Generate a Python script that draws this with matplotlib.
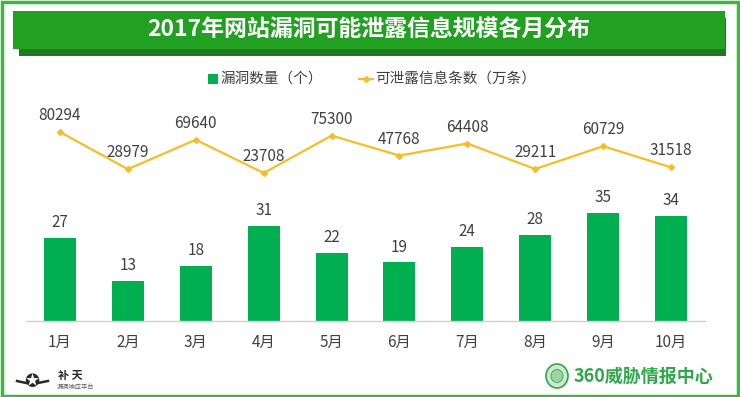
import matplotlib
matplotlib.use("Agg")
import matplotlib.pyplot as plt
from matplotlib.patches import Rectangle, Ellipse
from matplotlib.lines import Line2D

plt.rcParams['font.family'] = ['Noto Sans CJK SC', 'DejaVu Sans']

months = ["1月", "2月", "3月", "4月", "5月", "6月", "7月", "8月", "9月", "10月"]
vuln_counts = [27, 13, 18, 31, 22, 19, 24, 28, 35, 34]
leak_records = [80294, 28979, 69640, 23708, 75300, 47768, 64408, 29211, 60729, 31518]

title = "2017年网站漏洞可能泄露信息规模各月分布"
bar_label = "漏洞数量（个）"
line_label = "可泄露信息条数（万条）"

BAR_C = "#00B050"
LINE_C = "#F7BD27"
TXT_C = "#404040"

W, H = 740, 397
fig = plt.figure(figsize=(W / 100, H / 100), dpi=100)
fig.patch.set_facecolor("white")

def fx(px):
    return px / W

def fy(py):
    return 1 - py / H

# outer border
fig.add_artist(Rectangle((fx(1.5), fy(395.5)), fx(736), (394) / H, transform=fig.transFigure,
                         fill=False, edgecolor="#3CB83C", linewidth=2.5))

# title bar with shadow
fig.add_artist(Rectangle((fx(19), fy(56)), fx(707), 38 / H, transform=fig.transFigure,
                         facecolor="#1E7A1E", edgecolor="none"))
fig.add_artist(Rectangle((fx(13), fy(49)), fx(712), 38 / H, transform=fig.transFigure,
                         facecolor="#22A022", edgecolor="none"))
fig.text(fx(369), fy(30), title, color="white", fontsize=16.5, fontweight="bold",
         ha="center", va="center")

# main axes
left_px, right_px = 26, 705
top_px, base_px = 100, 321
ax = fig.add_axes([fx(left_px), fy(base_px), fx(right_px - left_px), (base_px - top_px) / H])
x = list(range(len(months)))
ax.bar(x, vuln_counts, width=0.47, color=BAR_C, zorder=2)
ax.set_xlim(-0.5, len(months) - 0.5)
ax.set_ylim(0, 71.75)
for xi, v in zip(x, vuln_counts):
    ax.text(xi, v + 2.2, str(v), ha="center", va="bottom", fontsize=11, color=TXT_C)
ax.set_xticks(x)
ax.set_xticklabels(months, fontsize=11, color=TXT_C)
ax.tick_params(axis="x", length=0, pad=9)
ax.set_yticks([])
for s in ["top", "right", "left"]:
    ax.spines[s].set_visible(False)
ax.spines["bottom"].set_color("#D0D0D0")
ax.spines["bottom"].set_linewidth(1)
ax.patch.set_alpha(0)

ax2 = ax.twinx()
ax2.plot(x, leak_records, color=LINE_C, linewidth=1.6, marker="D", markersize=3,
         markerfacecolor=LINE_C, markeredgecolor=LINE_C, zorder=3)
ax2.set_ylim(-180540, 124460)
for xi, v in zip(x, leak_records):
    ax2.text(xi, v + 11000, str(v), ha="center", va="bottom", fontsize=11, color=TXT_C)
ax2.set_yticks([])
for s in ax2.spines.values():
    s.set_visible(False)

# legend
fig.add_artist(Rectangle((fx(208), fy(84)), fx(10), 10 / H, transform=fig.transFigure,
                         facecolor=BAR_C, edgecolor="none"))
fig.text(fx(220), fy(79), bar_label, fontsize=10.5, color=TXT_C, ha="left", va="center")
fig.add_artist(Line2D([fx(359), fx(373)], [fy(79), fy(79)], transform=fig.transFigure,
                      color=LINE_C, linewidth=1.6))
fig.add_artist(Line2D([fx(366)], [fy(79)], transform=fig.transFigure,
                      color=LINE_C, marker="D", markersize=3, linestyle="none"))
fig.text(fx(375), fy(79), line_label, fontsize=10.5, color=TXT_C, ha="left", va="center")

# bottom-left logo (text)
fig.text(fx(32), fy(382), "✪", fontsize=13, color="#2A2A2A", ha="center", va="center",
         family=["DejaVu Sans"])
fig.add_artist(Line2D([fx(17), fx(26)], [fy(381), fy(383)], transform=fig.transFigure,
                      color="#2A2A2A", linewidth=1.8))
fig.add_artist(Line2D([fx(38), fx(48)], [fy(383), fy(381)], transform=fig.transFigure,
                      color="#2A2A2A", linewidth=1.8))
fig.text(fx(58), fy(376), "补 天", fontsize=8, fontweight="bold", color="#2A2A2A",
         ha="left", va="center")
fig.text(fx(57), fy(388), "漏洞响应平台", fontsize=4.5, color="#555555", ha="left", va="center")

# bottom-right logo
fig.add_artist(Ellipse((fx(557), fy(376)), 22 / W, 24 / H, transform=fig.transFigure,
                       facecolor="#CFE8CF", edgecolor="#2EA84A", linewidth=1.2))
fig.add_artist(Ellipse((fx(557), fy(376)), 12 / W, 13 / H, transform=fig.transFigure,
                       facecolor="#9FD3A5", edgecolor="#2EA84A", linewidth=0.6))
fig.text(fx(574), fy(376), "360威胁情报中心", fontsize=13, fontweight="bold",
         color="#2EA84A", ha="left", va="center")

fig.savefig("out.png", dpi=100, facecolor="white")
